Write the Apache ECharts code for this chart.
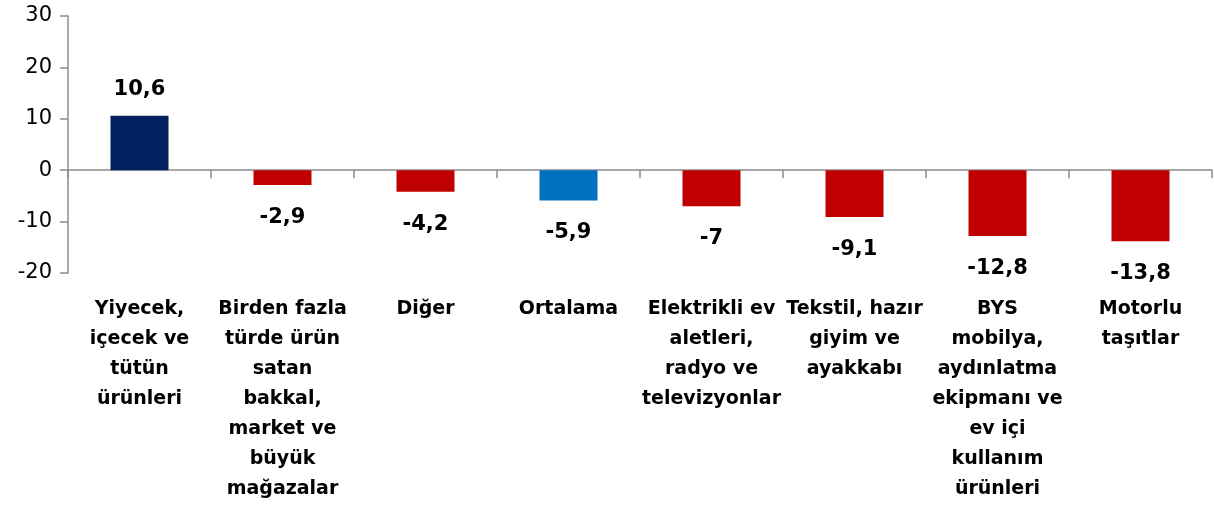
<!DOCTYPE html>
<html>
<head>
<meta charset="utf-8">
<script src="https://cdn.jsdelivr.net/npm/echarts@6/dist/echarts.min.js"></script>
<style>
  html, body { margin: 0; padding: 0; background: #fff; }
  #chart { width: 1214px; height: 521px; }
</style>
</head>
<body>
<div id="chart"></div>
<script>
  // kategoriler (satır sonları orijinaldeki gibi)
  var categories = [
    'Yiyecek,\niçecek ve\ntütün\nürünleri',
    'Birden fazla\ntürde ürün\nsatan\nbakkal,\nmarket ve\nbüyük\nmağazalar',
    'Diğer',
    'Ortalama',
    'Elektrikli ev\naletleri,\nradyo ve\ntelevizyonlar',
    'Tekstil, hazır\ngiyim ve\nayakkabı',
    'BYS\nmobilya,\naydınlatma\nekipmanı ve\nev içi\nkullanım\nürünleri',
    'Motorlu\ntaşıtlar'
  ]
  var values = [10.6, -2.9, -4.2, -5.9, -7, -9.1, -12.8, -13.8]
  var barColors = ['#002060', '#C00000', '#C00000', '#0070C0', '#C00000', '#C00000', '#C00000', '#C00000']
  var yTicks = [-20, -10, 0, 10, 20, 30]

  var chart = echarts.init(document.getElementById('chart'))

  var seriesData = values.map(function (v, i) {
    return {
      value: v,
      itemStyle: { color: barColors[i] },
      label: {
        position: v >= 0 ? 'top' : 'bottom',
        distance: v >= 0 ? 16 : 22
      }
    }
  })

  chart.setOption({
    animation: false,
    grid: { left: 68, right: 2, top: 16, bottom: 248, containLabel: false },
    xAxis: [
      {
        // çizgi sıfırda
        type: 'category',
        data: categories,
        axisLine: { onZero: true, lineStyle: { color: '#8c8c8c', width: 1.5 } },
        axisTick: { show: true, length: 8, lineStyle: { color: '#8c8c8c', width: 1.5 } },
        axisLabel: { show: false },
        splitLine: { show: false }
      },
      {
        // etiketler altta
        type: 'category',
        data: categories,
        position: 'bottom',
        axisLine: { show: false, onZero: false },
        axisTick: { show: false },
        axisLabel: {
          show: true,
          interval: 0,
          margin: 21,
          color: '#000',
          fontFamily: 'DejaVu Sans',
          fontWeight: 'bold',
          fontSize: 19,
          lineHeight: 30,
          align: 'center',
          verticalAlign: 'top'
        },
        splitLine: { show: false }
      }
    ],
    yAxis: {
      type: 'value',
      min: yTicks[0],
      max: yTicks[yTicks.length - 1],
      interval: 10,
      axisLine: { show: true, lineStyle: { color: '#8c8c8c', width: 1.5 } },
      axisTick: { show: true, length: 8, lineStyle: { color: '#8c8c8c', width: 1.5 } },
      axisLabel: {
        color: '#000',
        fontFamily: 'DejaVu Sans',
        fontSize: 21,
        margin: 16
      },
      splitLine: { show: false }
    },
    series: [
      {
        type: 'bar',
        xAxisIndex: 0,
        barWidth: 58,
        data: seriesData,
        label: {
          show: true,
          color: '#000',
          fontFamily: 'DejaVu Sans',
          fontWeight: 'bold',
          fontSize: 21,
          formatter: function (p) {
            return String(p.value).replace('.', ',')
          }
        }
      }
    ]
  })
</script>
</body>
</html>
